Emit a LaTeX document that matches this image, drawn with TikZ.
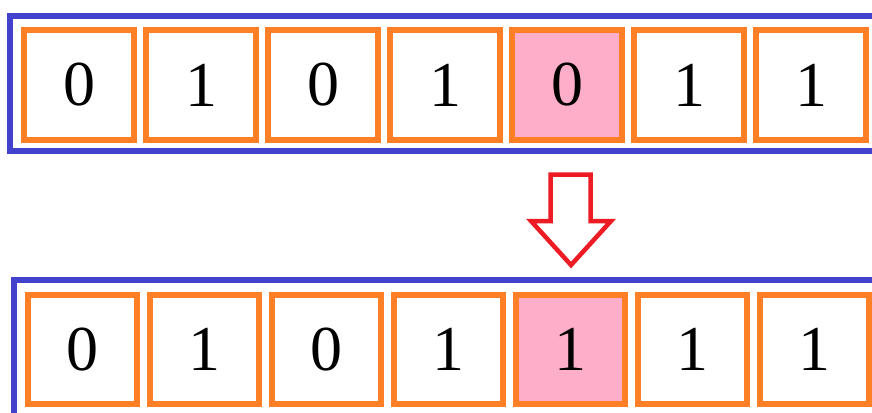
\documentclass[tikz,border=0pt]{standalone}
\usepackage{fontspec}
\setmainfont{Liberation Serif}
\definecolor{frameblue}{RGB}{66,66,204}
\definecolor{cellorange}{RGB}{255,127,39}
\definecolor{cellpink}{RGB}{255,174,201}
\definecolor{arrowred}{RGB}{237,28,36}
\begin{document}
\begin{tikzpicture}[x=1pt,y=-1pt,
  frame/.style={draw=frameblue,line width=5.5pt},
  cell/.style={draw=cellorange,line width=6pt,inner sep=0pt,minimum size=110pt,font=\fontsize{64}{64}\selectfont},
  lowcell/.style={cell,minimum size=109pt},
  hot/.style={fill=cellpink},
  bigarrow/.style={draw=arrowred,line width=4.5pt,fill=white,line join=miter}]
\useasboundingbox (0,0) rectangle (872,412);
\draw[frame] (10,16) rectangle (900,151);
\draw[frame] (14,280) rectangle (900,440);
\foreach \i/\d in {0/0,1/1,2/0,3/1,5/1,6/1}{
  \node[cell] (t\i) at ({79+122*\i},85) {\d};
}
\node[cell,hot] (t4) at ({79+122*4},85) {0};
\foreach \i/\d in {0/0,1/1,2/0,3/1,5/1,6/1}{
  \node[lowcell] (b\i) at ({82.5+122*\i},349.5) {\d};
}
\node[lowcell,hot] (b4) at ({82.5+122*4},349.5) {1};
\draw[bigarrow] (550.5,174.5) -- (590.5,174.5) -- (590.5,221) -- (611,221) -- (571,265) -- (531,221) -- (550.5,221) -- cycle;
\end{tikzpicture}
\end{document}
